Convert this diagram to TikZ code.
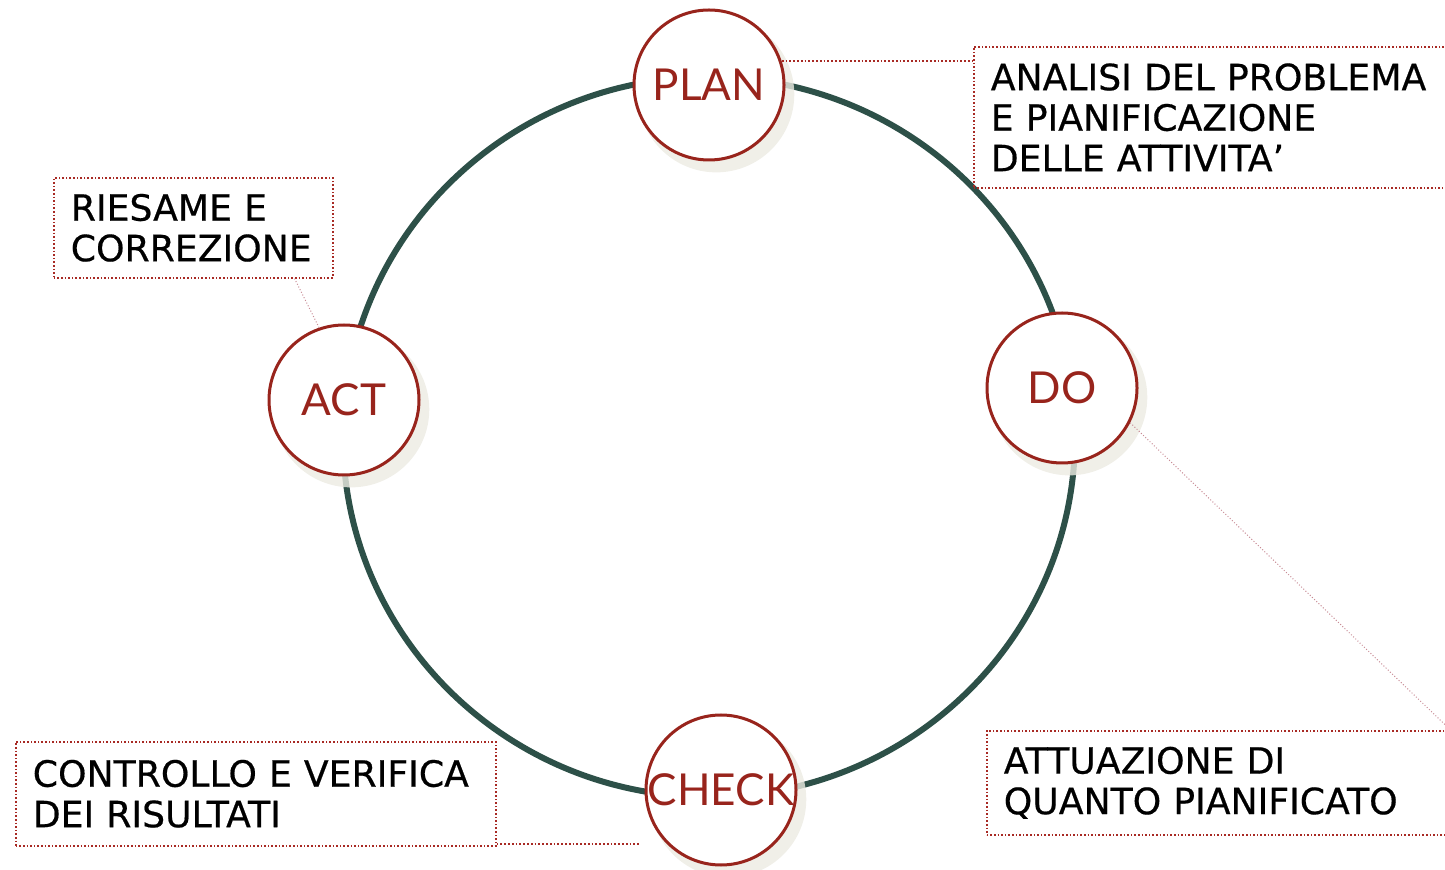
\documentclass[tikz,border=0pt]{standalone}
\usepackage{fontspec}
\setmainfont{DejaVu Sans}[FakeBold=0.5]
\newfontfamily\phasefont{Lato}
\usetikzlibrary{calc,shadows}

\definecolor{ringgreen}{RGB}{45,80,72}
\definecolor{phasered}{RGB}{152,36,28}
\definecolor{notered}{RGB}{168,42,36}
\definecolor{leadpink}{RGB}{200,140,150}
\definecolor{shadowgray}{RGB}{236,235,226}

\tikzset{
    phase/.style={circle, draw=phasered, line width=1.5pt, fill=white,
        minimum size=75pt, inner sep=0pt, text=phasered,
        font=\phasefont\fontsize{22}{22}\selectfont,
        general shadow={fill=shadowgray, fill opacity=0.8,
            shadow xshift=3.5pt, shadow yshift=-4.5pt, shadow scale=1.04}},
    note/.style={draw=notered, densely dotted, line width=0.8pt,
        anchor=north west, align=left, inner xsep=8.5pt, inner ysep=0pt,
        font=\fontsize{18.1}{20.25}\selectfont},
    leader/.style={draw=notered, densely dotted, line width=0.9pt},
    lead/.style={draw=leadpink, densely dotted, line width=0.5pt},
}

\begin{document}
\begin{tikzpicture}[x=0.5pt, y=-0.5pt]
    \clip (0,0) rectangle (1445,870);

    \draw[ringgreen, line width=3pt] (709,437) ellipse [x radius=183pt, y radius=180pt];

    \node[phase] (plan) at (709,85) {PLAN};
    \node[phase] (do) at (1062,388) {DO};
    \node[phase] (check) at (721,790) {CHECK};
    \node[phase] (act) at (344,400) {ACT};

    \node[note, text width=221pt, minimum height=70.5pt] (planbox) at (973,46)
        {ANALISI DEL PROBLEMA\\E PIANIFICAZIONE\\DELLE ATTIVITA’};
    \node[note, text width=214.5pt, minimum height=52pt] (dobox) at (986,730)
        {ATTUAZIONE DI\\QUANTO PIANIFICATO};
    \node[note, text width=223pt, minimum height=52pt] (checkbox) at (15,741)
        {CONTROLLO E VERIFICA\\DEI RISULTATI};
    \node[note, text width=122.5pt, minimum height=50pt] (actbox) at (53,177)
        {RIESAME E\\CORREZIONE};

    \coordinate (checkend) at ($(check.west |- checkbox.south east)+(-4,-3)$);

    \draw[leader] (plan.18) -- (plan.18 -| planbox.west);
    \draw[leader] ($(checkbox.south east)+(0,-3)$) -- (checkend);
    \draw[lead] (do.-27.5) -- (dobox.north east);
    \draw[lead] (act.109) -- ($(actbox.south east)+(-39,0)$);
\end{tikzpicture}
\end{document}
